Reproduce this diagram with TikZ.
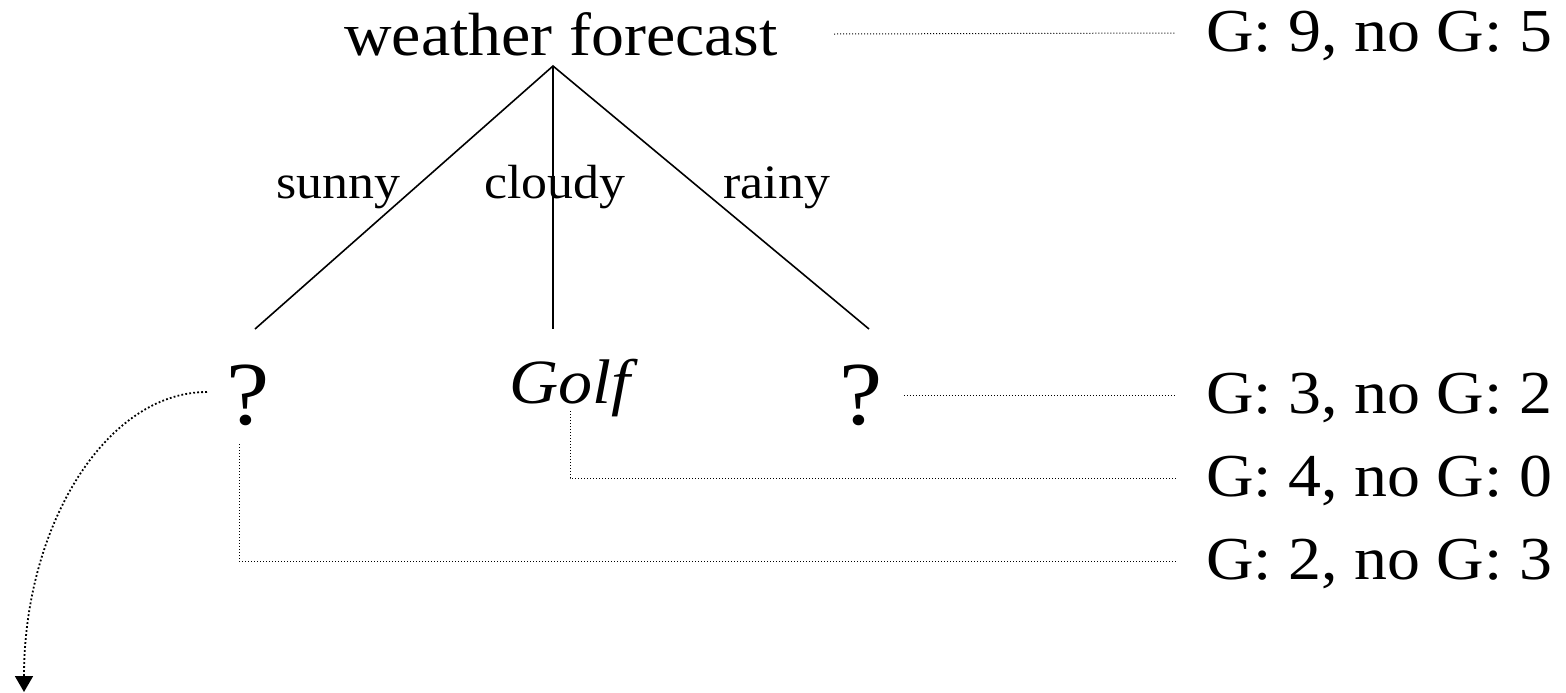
\documentclass[tikz,border=0pt]{standalone}
\usepackage{fontspec}
\setmainfont{Liberation Serif}[FakeStretch=1.08]
\usetikzlibrary{arrows.meta, positioning, calc}

\tikzset{
  treeline/.style={line width=0.8pt},
  infoline/.style={line width=0.5pt, dash pattern=on 0.5pt off 1pt},
  bigtext/.style={font=\fontsize{30.5}{34}\selectfont, anchor=base west, inner sep=0pt},
  edgetext/.style={font=\fontsize{24}{28}\selectfont, anchor=base west, inner sep=0pt},
  openleaf/.style={font=\fontsize{45}{50}\selectfont, anchor=base west, inner sep=0pt},
}

\begin{document}
\begin{tikzpicture}[x=0.5pt, y=-0.5pt]
\useasboundingbox (0,0) rectangle (1566,692);

% tree
\node[bigtext] (root) at (344,55) {weather forecast};
\coordinate (apex) at (553,66);
\coordinate (sunnyend) at (255,329);
\coordinate (cloudyend) at (553,329);
\coordinate (rainyend) at (869,329);
\draw[treeline] (sunnyend) -- (apex) -- (rainyend);
\draw[treeline] (apex) -- (cloudyend);

\node[edgetext] (sunny) at (276,198) {sunny};
\node[edgetext] (cloudy) at (484,198) {cloudy};
\node[edgetext] (rainy) at (723,198) {rainy};

\node[openleaf] (sunnyq) at (226,424) {?};
\node[bigtext, font=\fontsize{31.5}{34}\selectfont] (golf) at (509,403) {\textit{Golf}};
\node[openleaf] (rainyq) at (839,424) {?};

% class counts
\node[bigtext] (gnine) at (1206,51) {G: 9, no G: 5};
\node[bigtext] (gthree) at (1206,413) {G: 3, no G: 2};
\node[bigtext] (gfour) at (1206,496) {G: 4, no G: 0};
\node[bigtext] (gtwo) at (1206,579) {G: 2, no G: 3};

\draw[infoline] ($(root.base east)+(56,-21)$) -- ($(gnine.base west)+(-30,-18)$);
\draw[infoline] ($(rainyq.base east)+(21,-29)$) -- ($(gthree.base west)+(-30,-18)$);
\draw[infoline] ($(golf.base west)+(61,8)$) |- ($(gfour.base west)+(-30,-18)$);
\draw[infoline] ($(sunnyq.base west)+(13,20)$) |- ($(gtwo.base west)+(-30,-18)$);

% further split
\coordinate (nextsplit) at (24,692);
\draw[infoline, line width=0.9pt, dash pattern=on 0.9pt off 1.1pt, -{Triangle[width=9pt, length=8pt]}]
  ($(sunnyq.base west)+(-19,-32)$) .. controls (106,392) and (24,526) .. (nextsplit);
\end{tikzpicture}
\end{document}
